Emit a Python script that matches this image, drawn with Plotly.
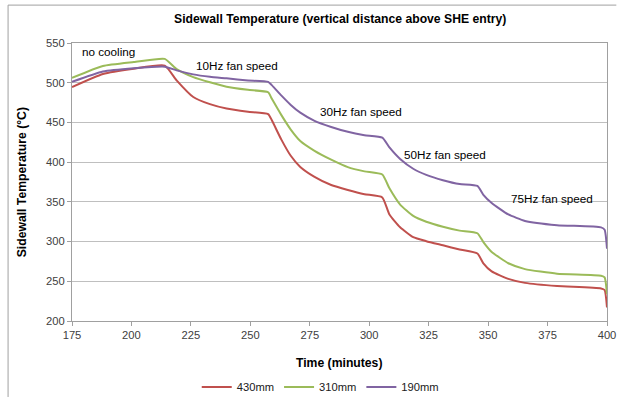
import plotly.graph_objects as go

# time (minutes)
time_min = [175, 188, 201, 214, 219, 226, 233, 240, 249, 257.5, 259, 263, 267, 271, 277, 284,
            291, 298, 305.5, 308.5, 313, 318.5, 324, 331, 338, 345.5, 348, 351.5, 358.5,
            365.5, 379, 397.5, 399, 400]

temp_430mm = [494.5, 511, 517.7, 521.5, 503, 482, 473, 467.5, 463.5, 460.5, 453, 428.7, 408, 394,
              381.5, 371.2, 365, 359.7, 355.6, 334, 318, 305.5, 300.5, 295.3, 290, 285, 272.7,
              262.4, 253, 248, 244, 241, 239, 217]

temp_310mm = [506, 521, 526, 530, 517, 507, 500.5, 495, 491, 488, 480, 459.5, 441, 426.6, 414.3,
              403.2, 393.8, 388.4, 384.4, 367, 346.6, 332.3, 325, 318.7, 313.8, 310.5, 299.4,
              287, 272.7, 265.3, 259.6, 257, 255, 233.7]

temp_190mm = [501, 514, 518.2, 520.2, 515.5, 510.5, 507.5, 505.5, 502.8, 501, 497, 484, 472, 462.3,
              452, 444.3, 438.2, 434, 430.8, 418.5, 404, 391.7, 384, 377.3, 372.4, 370, 358.9,
              348.6, 334.2, 326, 320.7, 317.9, 315, 291]

series_names = ["430mm", "310mm", "190mm"]
series_colors = ["#C0504D", "#9BBB59", "#8064A2"]

phase_labels = ["no cooling", "10Hz fan speed", "30Hz fan speed", "50Hz fan speed", "75Hz fan speed"]
phase_x = [178.3, 244.4, 296.5, 331.8, 376.7]
phase_y = [539.5, 522.3, 463.5, 409, 354.8]
phase_anchor = ["left", "center", "center", "center", "center"]

x_ticks = [175, 200, 225, 250, 275, 300, 325, 350, 375, 400]
y_ticks = [200, 250, 300, 350, 400, 450, 500, 550]

FONT = "Liberation Sans"

W, H = 626, 412
L, R, T, B = 72, 10, 42.5, 79.7
PW, PH = W - L - R, H - T - B

fig = go.Figure()
for name, vals, col in zip(series_names, [temp_430mm, temp_310mm, temp_190mm], series_colors):
    fig.add_trace(go.Scatter(x=time_min, y=vals, mode="lines", name=name,
                             line=dict(color=col, width=2, shape="spline", smoothing=0.5)))

for txt, xv, yv, anc in zip(phase_labels, phase_x, phase_y, phase_anchor):
    fig.add_annotation(x=xv, y=yv, text=txt, showarrow=False, xanchor=anc, yanchor="middle",
                       font=dict(family=FONT, size=11.7, color="#000000"))

fig.add_annotation(xref="paper", yref="paper", x=0.5, y=1.0, yshift=24.1,
                   text="<b>Sidewall Temperature (vertical distance above SHE entry)</b>",
                   showarrow=False, xanchor="center", yanchor="middle",
                   font=dict(family=FONT, size=12.2, color="#000000"))
fig.add_annotation(xref="paper", yref="paper", x=(343 - L) / PW, y=0, yshift=-42.2,
                   text="<b>Time (minutes)</b>",
                   showarrow=False, xanchor="center", yanchor="middle",
                   font=dict(family=FONT, size=12.2, color="#000000"))
fig.add_annotation(xref="paper", yref="paper", x=0, xshift=-49.7, y=0.5,
                   text="<b>Sidewall Temperature (°C)</b>",
                   showarrow=False, xanchor="center", yanchor="middle", textangle=-90,
                   font=dict(family=FONT, size=12.2, color="#000000"))

# outer chart frame: left and top edges, kept inside the figure
fx0 = (7 - L) / PW
fx1 = (W - 0.5 - L) / PW
fy_top = 1 + (T - 3) / PH
fy_bot = 1 - (PH + B - 0.5) / PH
fig.add_shape(type="line", xref="paper", yref="paper", x0=fx0, x1=fx0, y0=fy_bot, y1=fy_top,
              line=dict(color="#A0A0A0", width=1), layer="below")
fig.add_shape(type="line", xref="paper", yref="paper", x0=fx0, x1=fx1, y0=fy_top, y1=fy_top,
              line=dict(color="#A0A0A0", width=1), layer="below")

fig.update_layout(
    width=W, height=H,
    margin=dict(l=L, r=R, t=T, b=B),
    paper_bgcolor="white", plot_bgcolor="white",
    font=dict(family=FONT, size=11.2, color="#404040"),
    showlegend=True,
    legend=dict(orientation="h", x=0.464, xanchor="center", y=-0.237, yanchor="middle",
                itemwidth=30, font=dict(family=FONT, size=11.2, color="#202020"),
                bgcolor="rgba(0,0,0,0)"),
)
fig.update_xaxes(range=[175, 400], tickvals=x_ticks, showgrid=False, zeroline=False,
                 showline=True, linecolor="#A0A0A0", linewidth=1, mirror=True,
                 ticks="outside", ticklen=4, tickcolor="#A0A0A0",
                 tickfont=dict(family=FONT, size=11.2, color="#404040"))
fig.update_yaxes(range=[200, 550], tickvals=y_ticks, showgrid=True, gridcolor="#BFBFBF",
                 gridwidth=1, zeroline=False,
                 showline=True, linecolor="#A0A0A0", linewidth=1, mirror=True,
                 ticks="outside", ticklen=4, tickcolor="#A0A0A0",
                 tickfont=dict(family=FONT, size=11.2, color="#404040"))

# remove the default page margin so the figure fills the 626x412 window
page_css = ("document.documentElement.style.overflow='hidden';"
            "document.body.style.margin='0';document.body.style.overflow='hidden';")
fig.write_html("out.html", post_script=page_css, config={"displayModeBar": False})
